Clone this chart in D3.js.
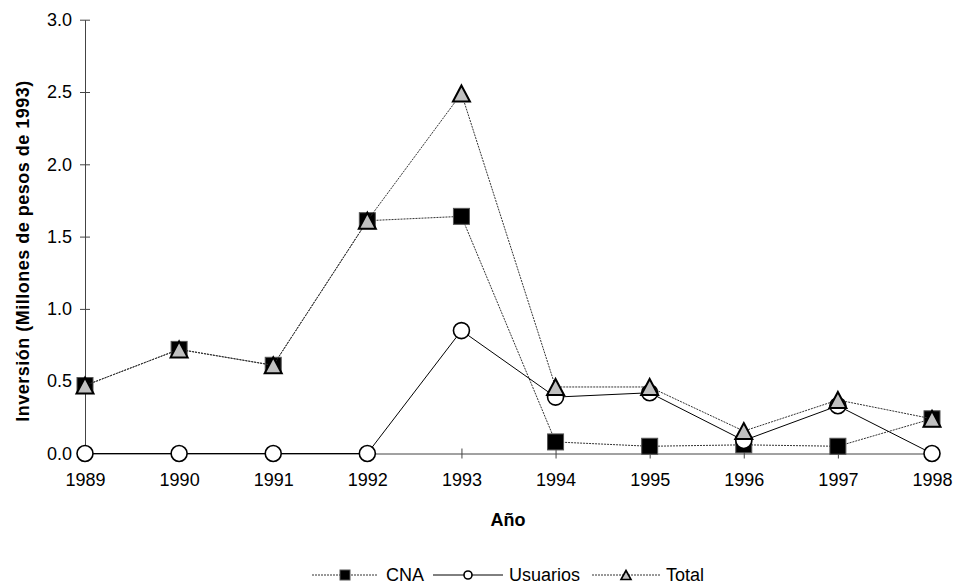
<!DOCTYPE html>
<html>
<head>
<meta charset="utf-8">
<script src="https://cdn.jsdelivr.net/npm/d3@7"></script>
<style>
  html, body { margin: 0; padding: 0; background: #fff; }
  svg { display: block; font-family: "Liberation Sans", Arial, sans-serif; }
</style>
</head>
<body>
<svg id="chart" width="963" height="588"></svg>
<script>
// Inversión anual por fuente (millones de pesos de 1993)
const years = [1989, 1990, 1991, 1992, 1993, 1994, 1995, 1996, 1997, 1998];
const cna      = [0.47, 0.72, 0.61, 1.61, 1.64, 0.08, 0.05, 0.06, 0.05, 0.24];
const usuarios = [0.00, 0.00, 0.00, 0.00, 0.85, 0.39, 0.42, 0.09, 0.33, 0.00];
const total    = [0.47, 0.72, 0.61, 1.61, 2.49, 0.46, 0.46, 0.155, 0.37, 0.24];
const yTicks = [0, 0.5, 1.0, 1.5, 2.0, 2.5, 3.0];
const seriesNames = ["CNA", "Usuarios", "Total"];

const svg = d3.select("#chart");
const x = d3.scalePoint().domain(years).range([85, 932]);
const y = d3.scaleLinear().domain([0, 3]).range([453.5, 19.7]);

const axisColor = "#444";
const fontSize = 18;

// Y axis with ticks crossing the line
const yAxis = svg.append("g").attr("transform", "translate(85,0)")
  .call(d3.axisLeft(y).tickValues(yTicks).tickFormat(d3.format(".1f")).tickSizeInner(5).tickSizeOuter(0).tickPadding(8));
yAxis.select(".domain").attr("stroke", axisColor);
yAxis.selectAll(".tick line").attr("stroke", axisColor).attr("x2", 5).attr("x1", -5);
yAxis.selectAll(".tick text").attr("font-size", fontSize).attr("fill", "#000")
  .attr("font-family", "'Liberation Sans', Arial, sans-serif");

// X axis
const xAxis = svg.append("g").attr("transform", "translate(0,453.5)")
  .call(d3.axisBottom(x).tickSizeInner(5).tickSizeOuter(0).tickPadding(15));
xAxis.select(".domain").attr("stroke", axisColor);
xAxis.selectAll(".tick line").attr("stroke", axisColor).attr("y1", -5).attr("y2", 5);
xAxis.selectAll(".tick text").attr("font-size", fontSize).attr("fill", "#000")
  .attr("font-family", "'Liberation Sans', Arial, sans-serif");

// Axis titles
svg.append("text")
  .attr("transform", "translate(29,251) rotate(-90)")
  .attr("text-anchor", "middle")
  .attr("font-size", fontSize).attr("font-weight", "bold")
  .attr("letter-spacing", 0.5)
  .text("Inversión (Millones de pesos de 1993)");
svg.append("text")
  .attr("x", 508).attr("y", 526)
  .attr("text-anchor", "middle")
  .attr("font-size", fontSize).attr("font-weight", "bold")
  .text("Año");

// Marker drawers
function square(g, cx, cy, s) {
  g.append("rect").attr("x", cx - s / 2).attr("y", cy - s / 2)
    .attr("width", s).attr("height", s)
    .attr("fill", "#000").attr("stroke", "#555").attr("stroke-width", 1);
}
function circle(g, cx, cy, r, sw) {
  g.append("circle").attr("cx", cx).attr("cy", cy).attr("r", r)
    .attr("fill", "#fff").attr("stroke", "#000").attr("stroke-width", sw);
}
function triangle(g, cx, cy, w, h, sw) {
  g.append("path")
    .attr("d", `M${cx},${cy - h / 2}L${cx + w / 2},${cy + h / 2}L${cx - w / 2},${cy + h / 2}Z`)
    .attr("fill", "#c0c0c0").attr("stroke", "#000").attr("stroke-width", sw)
    .attr("stroke-linejoin", "miter");
}

const series = [
  { name: seriesNames[0], values: cna,      dash: "2,1", color: "#333",
    mark: (g, cx, cy) => square(g, cx, cy, 16),
    legendMark: (g, cx, cy) => square(g, cx, cy, 10) },
  { name: seriesNames[1], values: usuarios, dash: null,  color: "#000",
    mark: (g, cx, cy) => circle(g, cx, cy, 8, 1.6),
    legendMark: (g, cx, cy) => circle(g, cx, cy, 4, 1.6) },
  { name: seriesNames[2], values: total,    dash: "2,1", color: "#333",
    mark: (g, cx, cy) => triangle(g, cx, cy, 17, 16, 2),
    legendMark: (g, cx, cy) => triangle(g, cx, cy, 10, 9, 1.6) }
];

const line = d3.line().x((d, i) => x(years[i])).y(d => y(d));

series.forEach(s => {
  const g = svg.append("g");
  g.append("path").datum(s.values).attr("d", line)
    .attr("fill", "none").attr("stroke", s.color).attr("stroke-width", 1)
    .attr("stroke-dasharray", s.dash);
  s.values.forEach((v, i) => s.mark(g, x(years[i]), y(v)));
});

// Legend
const legendItems = [
  { x0: 312, x1: 378, textX: 386 },
  { x0: 433, x1: 503, textX: 509 },
  { x0: 592, x1: 660, textX: 666 }
];
const legendY = 575;
series.forEach((s, i) => {
  const it = legendItems[i];
  const g = svg.append("g");
  g.append("line").attr("x1", it.x0).attr("x2", it.x1).attr("y1", legendY).attr("y2", legendY)
    .attr("stroke", s.color).attr("stroke-width", 1).attr("stroke-dasharray", s.dash);
  s.legendMark(g, (it.x0 + it.x1) / 2, legendY);
  g.append("text").attr("x", it.textX).attr("y", legendY).attr("dy", "0.35em")
    .attr("font-size", fontSize).text(s.name);
});
</script>
</body>
</html>
